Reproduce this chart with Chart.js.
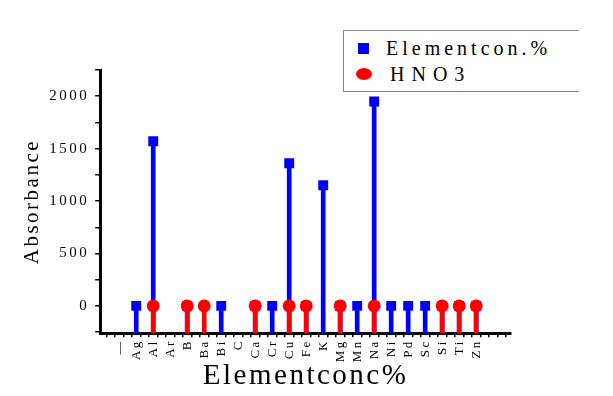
<!DOCTYPE html>
<html>
<head>
<meta charset="utf-8">
<script src="https://cdn.jsdelivr.net/npm/chart.js@4"></script>
<style>
html,body{margin:0;padding:0;background:#fff;}
#wrap{position:relative;width:613px;height:396px;}
#legend{position:absolute;left:343px;top:30px;width:235px;height:60px;border:1px solid #888;border-right:none;background:#fff;font-family:"Liberation Serif","DejaVu Serif",serif;font-size:20px;color:#000;}
.row{position:absolute;left:0;height:22px;display:flex;align-items:center;white-space:nowrap;}
.sq{display:inline-block;width:11px;height:11px;background:#0000ff;margin-left:14px;margin-right:17px;}
.ci{display:inline-block;width:16px;height:12px;border-radius:50%;background:#ff0000;margin-left:12px;margin-right:18px;}
</style>
</head>
<body>
<div id="wrap">
<canvas id="c" width="613" height="396"></canvas>
<div id="legend">
 <div class="row" style="top:6px;"><span class="sq"></span><span style="letter-spacing:4px;">Elementcon.%</span></div>
 <div class="row" style="top:32px;"><span class="ci"></span><span style="letter-spacing:7px;">HNO3</span></div>
</div>
</div>
<script>
const categories = ["—","Ag","Al","Ar","B","Ba","Bi","C","Ca","Cr","Cu","Fe","K","Mg","Mn","Na","Ni","Pd","Sc","Si","Ti","Zn"];
// Elementcon.% (blue squares); null = no point
const elementValues = [null,0,1570,null,0,null,0,null,0,0,1360,0,1150,0,0,1950,0,0,0,0,0,0];
// HNO3 (red circles)
const hno3Values = [null,null,0,null,0,0,null,null,0,null,0,0,null,0,null,0,null,null,null,0,0,0];
const yTickLabels = [0,500,1000,1500,2000];
const seriesNames = ["Elementcon.%","HNO3"];

const Y_MIN = -260, Y_MAX = 2250;
const FONT = '"Liberation Serif","DejaVu Serif",serif';

function stems(vals){ return vals.map((v,i)=> v===null?null:{x:i,y:[Y_MIN,v]}).filter(d=>d); }
function pts(vals){ return vals.map((v,i)=> v===null?null:{x:i,y:v}).filter(d=>d); }

new Chart(document.getElementById('c'), {
  type:'bar',
  data:{
    datasets:[
      {type:'scatter', label:seriesNames[1], data:pts(hno3Values), pointStyle:'circle', pointRadius:6.5, backgroundColor:'#ff0000', borderColor:'#ff0000', borderWidth:0, order:1},
      {type:'bar', label:seriesNames[1]+' stem', data:stems(hno3Values), backgroundColor:'#ff0000', barThickness:4, grouped:false, order:2},
      {type:'scatter', label:seriesNames[0], data:pts(elementValues), pointStyle:'rect', pointRadius:7, backgroundColor:'#0000ff', borderColor:'#0000ff', borderWidth:0, order:3},
      {type:'bar', label:seriesNames[0]+' stem', data:stems(elementValues), backgroundColor:'#0000ff', barThickness:4, grouped:false, order:4}
    ]
  },
  options:{
    responsive:false, animation:false,
    layout:{padding:{left:20,right:102,top:70,bottom:2}},
    plugins:{legend:{display:false}, tooltip:{enabled:false}},
    scales:{
      x:{type:'linear', min:-1.12, max:23.05, offset:false,
        border:{display:true,color:'#000',width:3},
        grid:{drawOnChartArea:false, drawTicks:true, tickLength:4, color:'#000', lineWidth:1.5},
        afterBuildTicks:(s)=>{ const t=[]; for(let v=-1;v<=23;v+=0.5) t.push({value:v}); s.ticks=t; },
        ticks:{autoSkip:false, maxRotation:90, minRotation:90, padding:2, color:'#000',
          font:{family:FONT,size:13},
          callback:(v)=> (Number.isInteger(v) && v>=0 && v<categories.length)? categories[v] : ''},
        title:{display:true, text:'Elementconc%', color:'#000', font:{family:FONT,size:29}, padding:{top:0,bottom:0}}
      },
      y:{min:Y_MIN, max:Y_MAX,
        border:{display:true,color:'#000',width:3},
        grid:{drawOnChartArea:false, drawTicks:true, tickLength:5, color:'#000', lineWidth:1.5},
        afterBuildTicks:(s)=>{ const t=[]; for(let v=-250;v<=2250;v+=250) t.push({value:v}); s.ticks=t; },
        ticks:{autoSkip:false, color:'#000', padding:6, font:{family:FONT,size:15},
          callback:(v)=> yTickLabels.includes(v)? String(v) : ''},
        title:{display:true, text:'Absorbance', color:'#000', font:{family:FONT,size:21}, padding:{top:0,bottom:8}}
      }
    }
  },
  plugins:[{
    id:'spacing',
    beforeDraw(chart){ chart.ctx.letterSpacing='2.5px'; }
  }]
});
</script>
</body>
</html>
